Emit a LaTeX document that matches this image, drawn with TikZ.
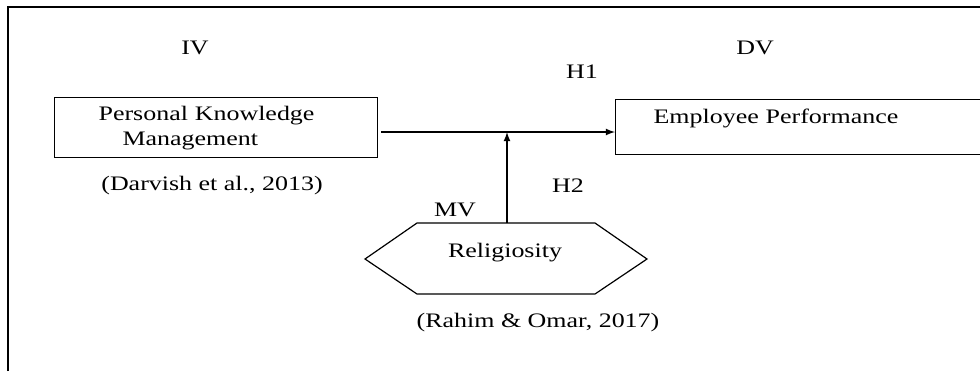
\documentclass[tikz,border=0pt]{standalone}
\usepackage{fontspec}
\setmainfont{Liberation Serif}[FakeStretch=1.26]
\usetikzlibrary{arrows}

\begin{document}
\begin{tikzpicture}[x=0.5pt,y=-0.5pt,>=latex,line width=0.6pt,font=\fontsize{10.3}{12.5}\selectfont]
\tikzstyle{box} = [rectangle, draw, inner sep=0pt, anchor=north west, align=left]
\tikzstyle{lbl} = [inner sep=0pt]
\useasboundingbox (0,0) rectangle (980,371);
\clip (0,0) rectangle (980,371);
% frame
\draw [line width=1pt] (8,371) -- (8,7) -- (980,7);
\node [box, minimum width=161.5pt, minimum height=30pt, text width=117.5pt, inner xsep=22pt] (node0) at (54,97) {Personal Knowledge\\\hspace{12pt}Management};
\node [box, minimum width=192.5pt, minimum height=27.5pt, text width=154.5pt, inner xsep=19pt, text height=8pt, text depth=11.5pt] (node1) at (615,99) {Employee Performance};
% hexagon
\draw (365,259) -- (417,223) -- (595,223) -- (647,259) -- (595,294) -- (417,294) -- cycle;
\node [lbl] (node2) at (505,253) {Religiosity};
\coordinate (node2top) at (507,223);
\coordinate (junc) at (507,132);
\node [lbl] (iv) at (195,48) {IV};
\node [lbl] (dv) at (755,48) {DV};
\node [lbl] (h1) at (582,72) {H1};
\node [lbl] (h2) at (568,186) {H2};
\node [lbl] (mv) at (455,210) {MV};
\node [lbl] (cite0) at (212,186) {(Darvish et al., 2013)};
\node [lbl] (cite2) at (538,323) {(Rahim \& Omar, 2017)};
\path (node0.east |- junc) edge [->, shorten <=1.5pt] (node1.west |- junc);
\path (node2top) edge [->] (junc);
\end{tikzpicture}
\end{document}
